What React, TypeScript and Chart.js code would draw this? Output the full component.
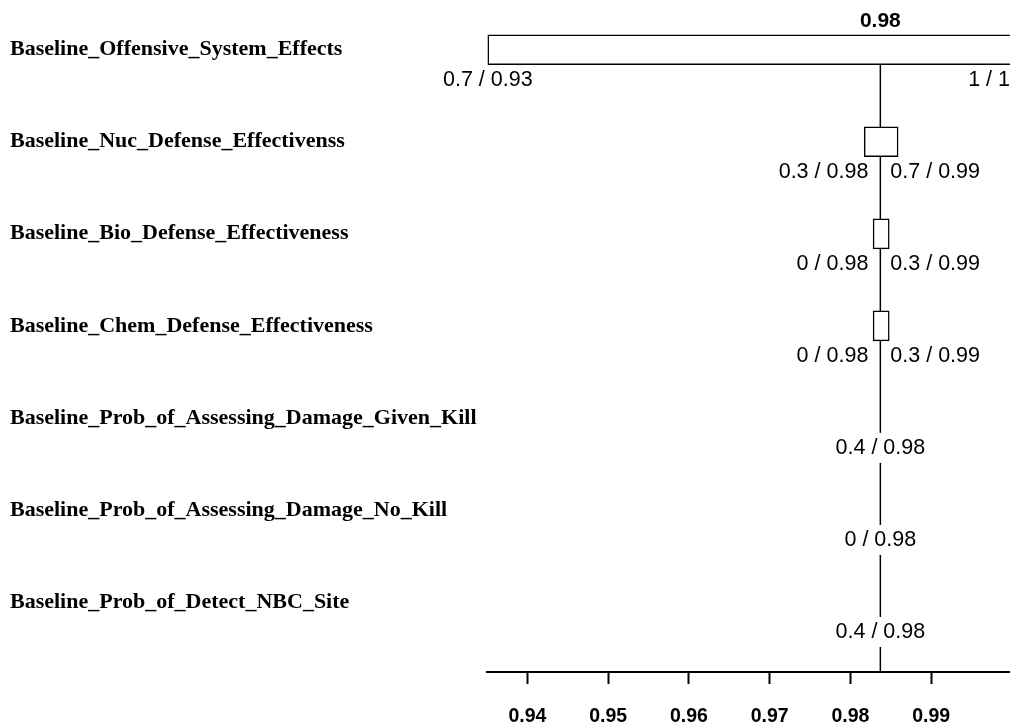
import React, { useEffect, useRef } from "react";
import { Chart, registerables } from "chart.js";

Chart.register(...registerables);

const categories = [
  "Baseline_Offensive_System_Effects",
  "Baseline_Nuc_Defense_Effectivenss",
  "Baseline_Bio_Defense_Effectiveness",
  "Baseline_Chem_Defense_Effectiveness",
  "Baseline_Prob_of_Assessing_Damage_Given_Kill",
  "Baseline_Prob_of_Assessing_Damage_No_Kill",
  "Baseline_Prob_of_Detect_NBC_Site",
];
const baseValue = 0.9837;
const baseLabel = "0.98";
const lowValues: (number | null)[] = [0.9351, 0.9817, 0.9828, 0.9828, null, null, null];
const highValues: (number | null)[] = [1.0, 0.9859, 0.9848, 0.9848, null, null, null];
const lowLabels = ["0.7 / 0.93", "0.3 / 0.98", "0 / 0.98", "0 / 0.98", "0.4 / 0.98", "0 / 0.98", "0.4 / 0.98"];
const highLabels: (string | null)[] = ["1 / 1", "0.7 / 0.99", "0.3 / 0.99", "0.3 / 0.99", null, null, null];
const xTicks = [0.94, 0.95, 0.96, 0.97, 0.98, 0.99];
const xMin = 0.935;
const xMax = 1.0;

const BAR_H = 30;
const VISIBLE_W = 1010;
const VALUE_FONT = "21.5px 'Liberation Sans', Arial, sans-serif";
const TITLE_FONT = "bold 21px 'Liberation Sans', Arial, sans-serif";

const tornadoPlugin = {
  id: "tornado",
  beforeDatasetsDraw(chart: any) {
    const { ctx, scales } = chart;
    const x = scales.x;
    const y = scales.y;
    const bx = x.getPixelForValue(baseValue);
    const top = y.getPixelForValue(0) + BAR_H / 2;
    ctx.save();
    ctx.strokeStyle = "#000";
    ctx.lineWidth = 1.5;
    ctx.beginPath();
    ctx.moveTo(bx, top);
    ctx.lineTo(bx, chart.chartArea.bottom);
    ctx.stroke();
    ctx.restore();
  },
  afterDatasetsDraw(chart: any) {
    const { ctx, scales } = chart;
    const x = scales.x;
    const y = scales.y;
    const bx = x.getPixelForValue(baseValue);
    ctx.save();
    ctx.fillStyle = "#000";
    ctx.textBaseline = "middle";
    ctx.font = TITLE_FONT;
    ctx.textAlign = "center";
    ctx.fillText(baseLabel, bx, y.getPixelForValue(0) - BAR_H / 2 - 14);

    ctx.font = VALUE_FONT;
    ctx.textAlign = "left";
    categories.forEach((_, i) => {
      const cy = y.getPixelForValue(i) + BAR_H / 2 + 15;
      const lo = lowValues[i];
      const hi = highValues[i];
      if (lo != null && hi != null) {
        const lt = lowLabels[i];
        const lw = ctx.measureText(lt).width;
        let lRight = x.getPixelForValue(lo) + lw / 2;
        if (lRight > bx - 12) lRight = bx - 12;
        ctx.fillText(lt, lRight - lw, cy);
        const ht = highLabels[i] || "";
        const hw = ctx.measureText(ht).width;
        let hLeft = x.getPixelForValue(hi) - hw / 2;
        if (hLeft < bx + 10) hLeft = bx + 10;
        if (hLeft + hw > VISIBLE_W) hLeft = VISIBLE_W - hw;
        ctx.fillText(ht, hLeft, cy);
      } else {
        const t = lowLabels[i];
        const w = ctx.measureText(t).width;
        const sx = bx - w / 2;
        ctx.fillStyle = "#fff";
        ctx.fillRect(sx - 2, cy - 15, w + 4, 30);
        ctx.fillStyle = "#000";
        ctx.fillText(t, sx, cy);
      }
    });
    ctx.restore();
  },
};

export default function App() {
  const canvasRef = useRef<HTMLCanvasElement | null>(null);

  useEffect(() => {
    if (!canvasRef.current) return;
    const barData = categories
      .map((_, i) =>
        lowValues[i] != null && highValues[i] != null
          ? { y: i, x: [lowValues[i] as number, highValues[i] as number] }
          : null
      )
      .filter((d) => d !== null);

    const chart = new Chart(canvasRef.current, {
      type: "bar",
      data: {
        datasets: [
          {
            data: barData as any,
            backgroundColor: "#ffffff",
            borderColor: "#000000",
            borderWidth: 1.5,
            borderSkipped: false,
            barThickness: BAR_H,
          },
        ],
      },
      options: {
        indexAxis: "y",
        animation: false,
        responsive: false,
        devicePixelRatio: 1,
        layout: { padding: { top: 0, left: 10, right: 0, bottom: 0 } },
        plugins: {
          legend: { display: false },
          tooltip: { enabled: false },
          title: { display: false },
        },
        scales: {
          x: {
            type: "linear",
            position: "bottom",
            min: xMin,
            max: xMax,
            afterBuildTicks: (s: any) => {
              s.ticks = xTicks.map((v) => ({ value: v }));
            },
            afterFit: (s: any) => {
              s.height = 56;
            },
            ticks: {
              callback: (v: any) => Number(v).toFixed(2),
              color: "#000",
              padding: 21,
              maxRotation: 0,
              autoSkip: false,
              font: { family: "'Liberation Sans', Arial, sans-serif", size: 19.5, weight: "bold" },
            },
            grid: {
              drawOnChartArea: false,
              drawTicks: true,
              tickLength: 12,
              tickWidth: 2,
              tickColor: "#000",
            },
            border: { display: true, color: "#000", width: 2 },
          },
          y: {
            type: "linear",
            offset: false,
            grace: 0,
            bounds: "data",
            reverse: true,
            min: -0.397,
            max: 6.761,
            afterBuildTicks: (s: any) => {
              s.ticks = categories.map((_, i) => ({ value: i }));
            },
            afterFit: (s: any) => {
              s.width = 477;
            },
            ticks: {
              callback: (v: any) => categories[Number(v)] ?? "",
              color: "#000",
              crossAlign: "far",
              padding: 0,
              autoSkip: false,
              font: { family: "'Liberation Serif', 'Times New Roman', serif", size: 22, weight: "bold" },
            },
            grid: { display: false, drawTicks: false },
            border: { display: false },
          },
        },
      },
      plugins: [tornadoPlugin],
    } as any);
    return () => chart.destroy();
  }, []);

  return (
    <div
      style={{
        position: "absolute",
        left: 0,
        top: 0,
        width: VISIBLE_W,
        height: 728,
        overflow: "hidden",
        background: "#fff",
      }}
    >
      <canvas ref={canvasRef} width={1012} height={728} style={{ display: "block" }} />
    </div>
  );
}
